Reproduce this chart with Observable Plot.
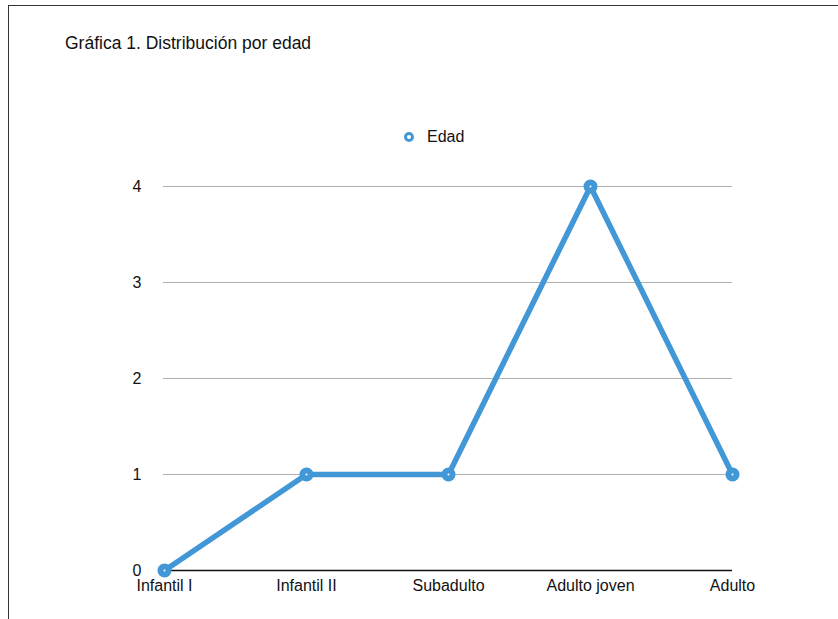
<!DOCTYPE html>
<html>
<head>
<meta charset="utf-8">
<script src="https://cdn.jsdelivr.net/npm/d3@7"></script>
<script src="https://cdn.jsdelivr.net/npm/@observablehq/plot@0.6"></script>
<style>
  html, body { margin: 0; padding: 0; background: #fff; }
  body { width: 838px; height: 619px; position: relative; overflow: hidden; font-family: Helvetica, "Liberation Sans", Arial, sans-serif; }
  #frame { position: absolute; left: 8px; top: 5px; width: 840px; height: 620px; border-left: 1.5px solid #333; border-top: 1.5px solid #333; box-sizing: border-box; }
  #chart { position: absolute; left: 0; top: 0; }
  #title { position: absolute; left: 65px; top: 33px; font-size: 17.5px; color: #111; white-space: nowrap; }
  #legend { position: absolute; left: 402px; top: 128px; font-size: 16px; color: #111; display: flex; align-items: center; white-space: nowrap; }
  #legend svg { margin-right: 11px; }
</style>
</head>
<body>
<div id="chart"></div>
<div id="frame"></div>
<div id="title"></div>
<div id="legend"></div>
<script>
const categories = ["Infantil I", "Infantil II", "Subadulto", "Adulto joven", "Adulto"];
const edad = [0, 1, 1, 4, 1];
const yTicks = [0, 1, 2, 3, 4];
const seriesName = "Edad";
const titleText = "Gráfica 1. Distribución por edad";
const color = "#4298d6";

const data = categories.map((c, i) => ({cat: c, value: edad[i]}));

document.getElementById("title").textContent = titleText;
const legend = document.getElementById("legend");
legend.innerHTML = `<svg width="14" height="14"><circle cx="7" cy="7" r="3.5" fill="white" stroke="${color}" stroke-width="3"/></svg><span>${seriesName}</span>`;

const chart = Plot.plot({
  width: 838,
  height: 619,
  marginLeft: 163,
  marginRight: 106,
  marginTop: 186,
  marginBottom: 49,
  style: { fontFamily: 'Helvetica, "Liberation Sans", Arial, sans-serif', fontSize: "16px", color: "#111", background: "transparent" },
  x: { type: "point", domain: categories, padding: 0, label: null },
  y: { domain: [0, 4], label: null },
  marks: [
    Plot.ruleY(yTicks.filter(d => d > 0), { stroke: "#b0b0b0", strokeWidth: 1.2, strokeOpacity: 1 }),
    Plot.ruleY([0], { stroke: "#111", strokeWidth: 1.6 }),
    Plot.axisY({ ticks: yTicks, tickSize: 0, tickPadding: 22, tickFormat: d => String(d), label: null, fontSize: 16 }),
    Plot.axisX({ tickSize: 0, tickPadding: 9, label: null, fontSize: 16 }),
    Plot.line(data, { x: "cat", y: "value", stroke: color, strokeWidth: 5.5, strokeLinejoin: "round" }),
    Plot.dot(data, { x: "cat", y: "value", r: 4, fill: "white", stroke: color, strokeWidth: 6 })
  ]
});
document.getElementById("chart").appendChild(chart);
</script>
</body>
</html>
